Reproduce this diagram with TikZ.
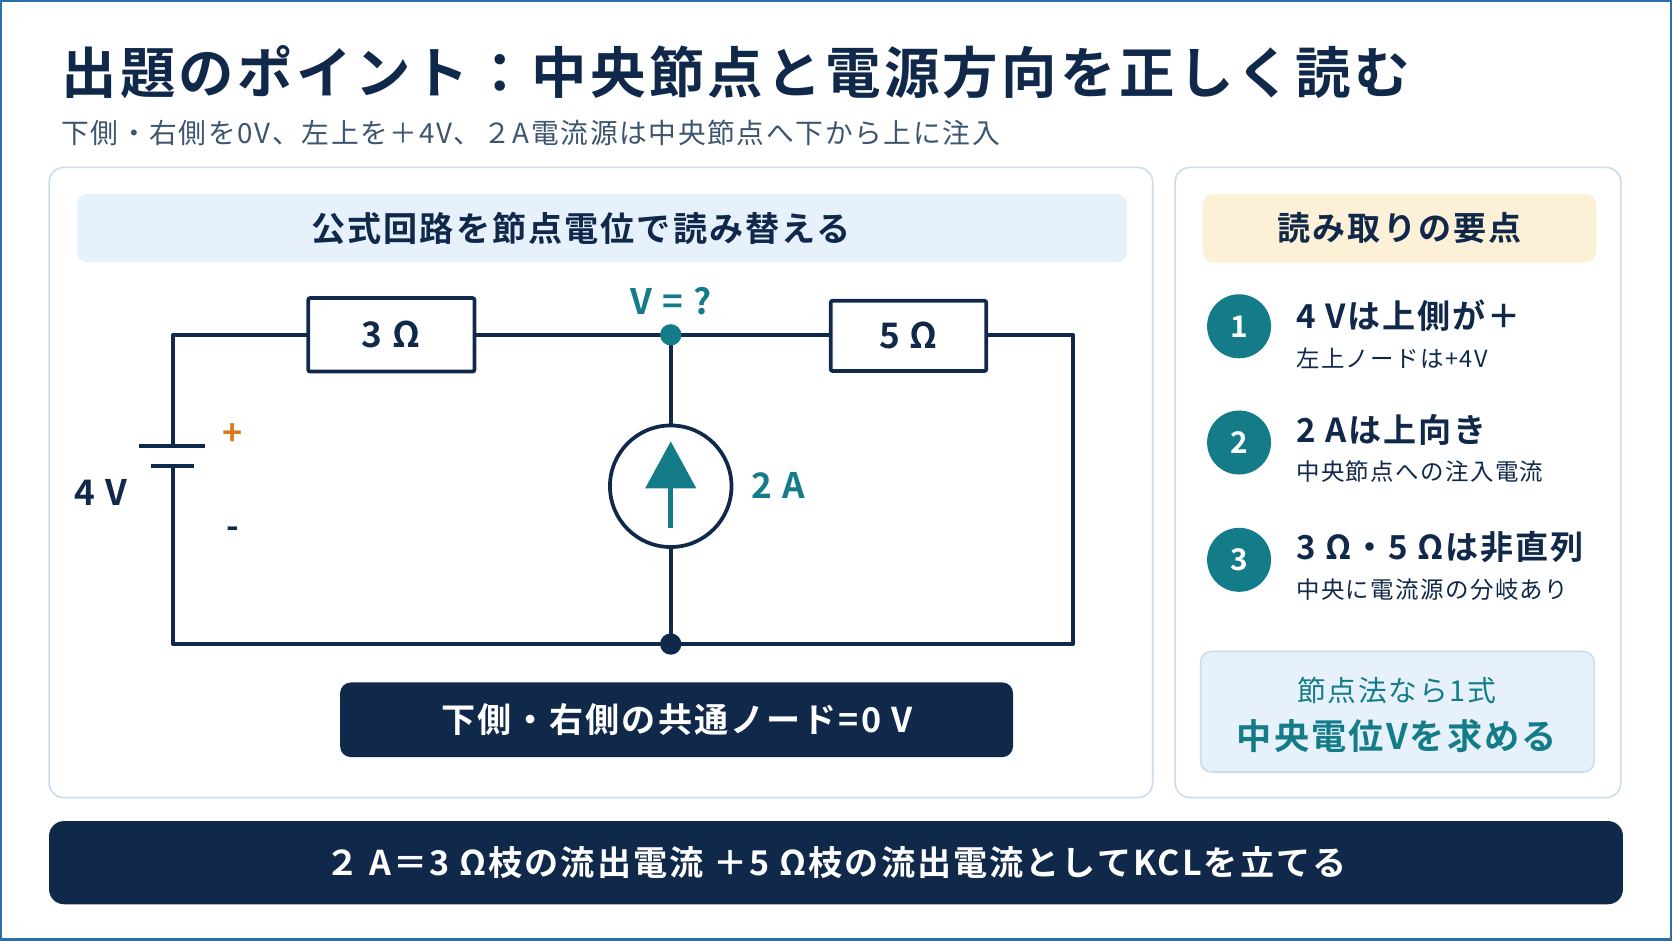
\documentclass[tikz,border=0pt]{standalone}
\usepackage{fontspec}
\setmainfont{Noto Sans CJK JP}[BoldFont={Noto Sans CJK JP Bold},LetterSpace=6]
\usetikzlibrary{arrows.meta}
\definecolor{navy}{HTML}{10284A}
\definecolor{teal}{HTML}{137C88}
\definecolor{pborder}{HTML}{C9DDEF}
\definecolor{hblue}{HTML}{E6F1FB}
\definecolor{hyel}{HTML}{FCF1D6}
\definecolor{sub}{HTML}{3E5570}
\definecolor{orng}{HTML}{D9791C}
\definecolor{frame}{HTML}{2F6FA8}
\begin{document}
\begin{tikzpicture}[x=1pt,y=-1pt,
  panel/.style={draw=pborder,line width=1.5pt,rounded corners=14pt,fill=white},
  wire/.style={draw=navy,line width=3.5pt,line cap=round,line join=round},
  num/.style={circle,fill=teal,minimum size=60pt,inner sep=0,text=white,font=\fontsize{28}{28}\selectfont\bfseries},
  big/.style={anchor=west,text=navy,font=\fontsize{31}{31}\selectfont\bfseries},
  small/.style={anchor=west,text=navy,font=\fontsize{22}{22}\selectfont}]
\useasboundingbox (0,0) rectangle (1568,882);
\fill[white] (0,0) rectangle (1568,882);
\draw[color=frame,line width=2pt] (1,1) rectangle (1567,881);
\node[anchor=west,text=navy,font=\fontsize{52}{52}\selectfont\bfseries] (title) at (54,68) {出題のポイント：中央節点と電源方向を正しく読む};
\node[anchor=west,text=sub,font=\fontsize{26}{26}\selectfont] (subt) at (54,125) {下側・右側を0V、左上を＋4V、２A電流源は中央節点へ下から上に注入};
% left panel
\draw[panel] (46,157) rectangle (1081,748);
\node[fill=hblue,rounded corners=10pt,minimum width=985pt,minimum height=64pt] (lh) at (564.5,214) {};
\node[text=navy,font=\fontsize{32}{32}\selectfont\bfseries] (lht) at (545,214) {公式回路を節点電位で読み替える};
% circuit
\coordinate (tl) at (162,314); \coordinate (tr) at (1006,314);
\coordinate (bl) at (162,604); \coordinate (br) at (1006,604);
\coordinate (bt1) at (162,418); \coordinate (bt2) at (162,437);
\coordinate (mt) at (629,314); \coordinate (mb) at (629,604);
\path[wire] (bt1) -- (tl) -- (tr) -- (br) -- (bl) -- (bt2);
\path[wire] (mt) -- (mb);
\draw[navy,line width=4pt] (130,418) -- (192,418);
\draw[navy,line width=4pt] (142,437) -- (182,437);
\node[text=orng,font=\fontsize{32}{32}\selectfont\bfseries] (plus) at (218,408) {+};
\node[text=navy,font=\fontsize{32}{32}\selectfont\bfseries] (minus) at (218,500) {-};
\node[text=navy,font=\fontsize{33}{33}\selectfont\bfseries] (v4) at (95,462) {4 V};
\node[draw=navy,line width=3.5pt,fill=white,rounded corners=2pt,minimum width=156pt,minimum height=69pt,text=navy,font=\fontsize{33}{33}\selectfont\bfseries] (r3) at (367,314) {3 Ω};
\node[draw=navy,line width=3.5pt,fill=white,rounded corners=2pt,minimum width=146pt,minimum height=66pt,text=navy,font=\fontsize{33}{33}\selectfont\bfseries] (r5) at (852,315) {5 Ω};
\node[circle,draw=navy,line width=3.5pt,fill=white,minimum size=114pt] (cs) at (629,456) {};
\draw[teal,line width=5pt] (629,495) -- (629,450);
\fill[teal] (605,458) -- (629,414) -- (653,458) -- cycle;
\fill[teal] (mt) circle (10pt);
\fill[navy] (mb) circle (10pt);
\node[text=teal,font=\fontsize{33}{33}\selectfont\bfseries] (ia) at (730,455) {2 A};
\node[text=teal,font=\fontsize{33}{33}\selectfont\bfseries] (vq) at (629,282) {V = ?};
\node[fill=navy,rounded corners=10pt,minimum width=631pt,minimum height=70pt,text=white,font=\fontsize{32}{32}\selectfont\bfseries] (gnd) at (634.5,675) {下側・右側の共通ノード=0 V};
% right panel
\draw[panel] (1102,157) rectangle (1520,748);
\node[fill=hyel,rounded corners=10pt,minimum width=369pt,minimum height=64pt,text=navy,font=\fontsize{31}{31}\selectfont\bfseries] (rh) at (1312.5,214) {読み取りの要点};
\node[num] (n1) at (1162,306) {1};
\node[num] (n2) at (1162,415) {2};
\node[num] (n3) at (1162,525) {3};
\node[big] (b1) at (1212,296) {4 Vは上側が＋};
\node[small] (s1) at (1212,336) {左上ノードは+4V};
\node[big] (b2) at (1212,403) {2 Aは上向き};
\node[small] (s2) at (1212,442) {中央節点への注入電流};
\node[big] (b3) at (1212,513) {3 Ω・5 Ωは非直列};
\node[small] (s3) at (1212,553) {中央に電流源の分岐あり};
\node[draw=pborder,line width=1.5pt,fill=hblue,rounded corners=10pt,minimum width=369pt,minimum height=113pt] (box) at (1310.5,667.5) {};
\node[text=teal,font=\fontsize{27}{27}\selectfont] (t1) at (1310,648) {節点法なら1式};
\node[text=teal,font=\fontsize{33}{33}\selectfont\bfseries] (t2) at (1310,690) {中央電位Vを求める};
% bottom banner
\node[fill=navy,rounded corners=14pt,minimum width=1476pt,minimum height=78pt,text=white,font=\fontsize{32}{32}\selectfont\bfseries] (ban) at (784,809) {２ A＝3 Ω枝の流出電流 ＋5 Ω枝の流出電流としてKCLを立てる};
\end{tikzpicture}
\end{document}
